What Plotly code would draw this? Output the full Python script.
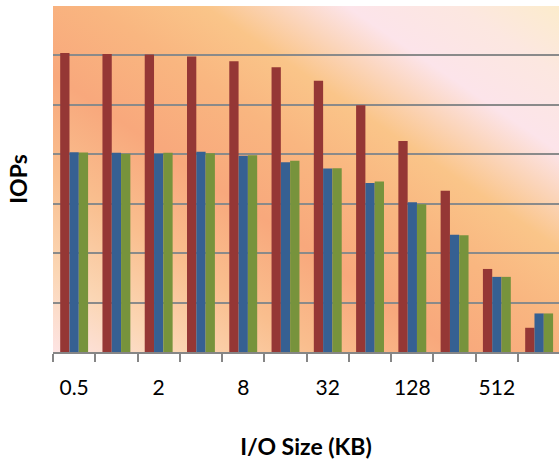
import base64
import plotly.graph_objects as go

# ---- data (y in gridline units) ----
categories = ["0.5", "1", "2", "4", "8", "16", "32", "64", "128", "256", "512", "1024"]
tick_labels = ["0.5", "", "2", "", "8", "", "32", "", "128", "", "512", ""]
series_red = [6.05, 6.03, 6.02, 5.98, 5.88, 5.76, 5.49, 4.99, 4.27, 3.26, 1.68, 0.49]
series_blue = [4.04, 4.03, 4.01, 4.05, 3.97, 3.84, 3.71, 3.42, 3.03, 2.37, 1.52, 0.78]
series_green = [4.035, 4.01, 4.03, 4.02, 3.98, 3.87, 3.72, 3.45, 2.99, 2.36, 1.52, 0.78]

colors = ["#953735", "#366092", "#77933C"]

# ---- gradient background as SVG ----
svg = """<svg xmlns='http://www.w3.org/2000/svg' width='100' height='100' viewBox='0 0 100 100' preserveAspectRatio='none'>
<defs><linearGradient id='g' x1='0' y1='1' x2='1' y2='0'>
<stop offset='0' stop-color='#FDE4E4'/>
<stop offset='0.12' stop-color='#FBD6B4'/>
<stop offset='0.26' stop-color='#F9BE8E'/>
<stop offset='0.40' stop-color='#F8A87C'/>
<stop offset='0.54' stop-color='#F9B680'/>
<stop offset='0.65' stop-color='#FAC589'/>
<stop offset='0.79' stop-color='#FCE4EA'/>
<stop offset='0.9' stop-color='#FCE7E0'/>
<stop offset='1' stop-color='#FCECCC'/>
</linearGradient></defs>
<rect x='0' y='0' width='100' height='100' fill='url(#g)'/>
</svg>"""
bg_src = "data:image/svg+xml;base64," + base64.b64encode(svg.encode()).decode()

fig = go.Figure()
for vals, col in zip([series_red, series_blue, series_green], colors):
    fig.add_trace(go.Bar(x=categories, y=vals, marker=dict(color=col, line=dict(width=0)),
                         showlegend=False, cliponaxis=True))

fig.update_layout(
    width=559, height=465,
    margin=dict(l=53, r=0, t=6, b=113, autoexpand=False),
    paper_bgcolor="white",
    plot_bgcolor="rgba(0,0,0,0)",
    barmode="group", bargap=0.34, bargroupgap=0,
    font=dict(family="Lato", color="black"),
    images=[dict(source=bg_src, xref="paper", yref="paper", x=0, y=1, sizex=1, sizey=1,
                 sizing="stretch", xanchor="left", yanchor="top", layer="below")],
)
fig.update_xaxes(
    type="category", range=[-0.5, 11.47], automargin=False,
    tickmode="array", tickvals=categories, ticktext=tick_labels, tickangle=0,
    tickson="boundaries", ticks="outside", ticklen=8, tickwidth=1.5, tickcolor="#868686",
    showline=True, linecolor="#868686", linewidth=2,
    showgrid=False, tickfont=dict(size=21, family="Lato"),
    ticklabelstandoff=16,
    title=dict(text="<b>I/O Size (KB)</b>", font=dict(size=23, family="Lato"), standoff=41),
)
fig.update_yaxes(
    range=[0, 7], dtick=1, showticklabels=False, ticks="", automargin=False,
    showgrid=True, gridcolor="#8A8A8A", gridwidth=2, zeroline=False, showline=False,
    title=dict(text="<b>IOPs</b>", font=dict(size=23, family="Lato"), standoff=17),
)

fig.write_html("out.html", config={"displayModeBar": False},
               post_script="document.body.style.margin='0';document.body.style.overflow='hidden';")
